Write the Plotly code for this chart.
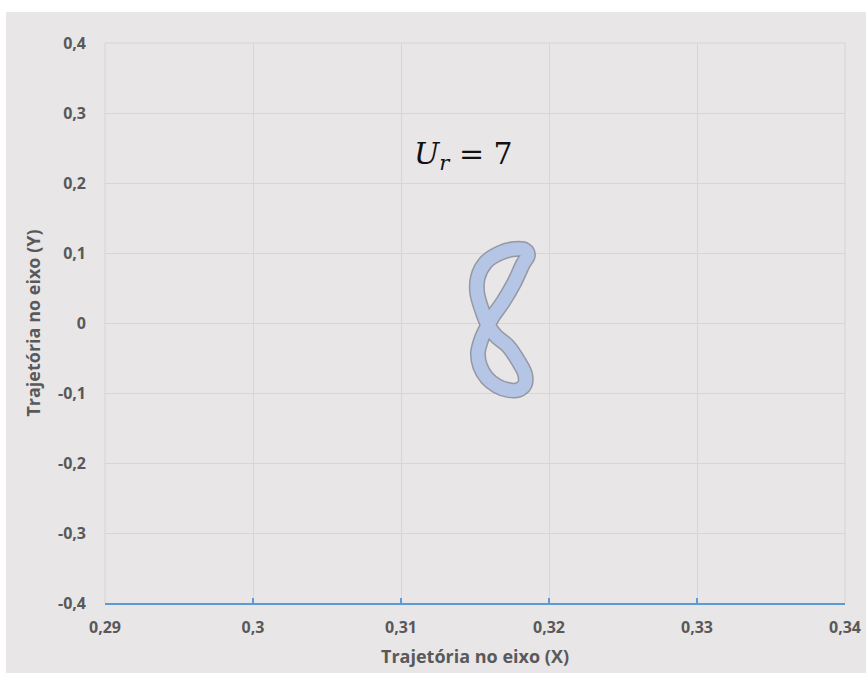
import plotly.graph_objects as go

# Trajectory (figure-eight)
traj_x = [0.31858, 0.31824, 0.31764, 0.31689, 0.31622, 0.31588, 0.31541, 0.31520,
          0.31534, 0.31581, 0.31649, 0.31723, 0.31791, 0.31838, 0.31838, 0.31797,
          0.31723, 0.31642, 0.31588, 0.31547, 0.31515, 0.31520, 0.31575, 0.31669,
          0.31770, 0.31838, 0.31858]
traj_y = [0.0971, 0.0843, 0.0571, 0.0300, 0.0100, -0.0029, -0.0243, -0.0429,
          -0.0614, -0.0786, -0.0900, -0.0957, -0.0957, -0.0871, -0.0729, -0.0557,
          -0.0329, -0.0186, -0.0029, 0.0186, 0.0429, 0.0657, 0.0871, 0.1000,
          0.1057, 0.1043, 0.0971]

x_tickvals = [0.29, 0.30, 0.31, 0.32, 0.33, 0.34]
x_ticktext = ["0,29", "0,3", "0,31", "0,32", "0,33", "0,34"]
y_tickvals = [0.4, 0.3, 0.2, 0.1, 0.0, -0.1, -0.2, -0.3, -0.4]
y_ticktext = ["0,4", "0,3", "0,2", "0,1", "0", "-0,1", "-0,2", "-0,3", "-0,4"]

x_title = "Trajetória no eixo (X)"
y_title = "Trajetória no eixo (Y)"
label_text = "<i>U</i><sub><i>r</i></sub> = 7"
label_x, label_y = 0.3142, 0.24

W, H = 866, 674
L, R, T, B = 105, 21, 43, 71
pw, ph = W - L - R, H - T - B
GRID = "#d6d6d6"
FONT = "Open Sans, sans-serif"
TXT = "#595959"

fig = go.Figure()
fig.add_trace(go.Scatter(x=traj_x, y=traj_y, mode="lines",
                         line=dict(color="rgba(80,88,105,0.55)", width=16, shape="spline"),
                         hoverinfo="skip", showlegend=False))
fig.add_trace(go.Scatter(x=traj_x, y=traj_y, mode="lines",
                         line=dict(color="#b4c5e6", width=13, shape="spline"),
                         showlegend=False))

fig.update_layout(
    width=W, height=H,
    margin=dict(l=L, r=R, t=T, b=B),
    paper_bgcolor="white",
    plot_bgcolor="rgba(0,0,0,0)",
    font=dict(family=FONT, size=16, color=TXT),
    showlegend=False,
    shapes=[
        dict(type="rect", xref="paper", yref="paper",
             x0=(6 - L) / pw, x1=(W - L) / pw,
             y0=(H - B - 673) / ph, y1=(H - B - 12) / ph,
             fillcolor="#e8e6e7", line=dict(width=0), layer="below"),
        dict(type="line", xref="paper", yref="paper", x0=0, x1=0, y0=0, y1=1,
             line=dict(color=GRID, width=1), layer="below"),
        dict(type="line", xref="paper", yref="paper", x0=1, x1=1, y0=0, y1=1,
             line=dict(color=GRID, width=1), layer="below"),
        dict(type="line", xref="paper", yref="paper", x0=0, x1=1, y0=1, y1=1,
             line=dict(color=GRID, width=1), layer="below"),
    ],
    annotations=[dict(x=label_x, y=label_y, xref="x", yref="y", text=label_text,
                      showarrow=False,
                      font=dict(family="DejaVu Serif, Liberation Serif, serif", size=30, color="#111111"))],
)

tick_font = dict(family=FONT, size=16, color=TXT, weight="bold")
title_font = dict(family=FONT, size=18, color=TXT, weight="bold")

fig.update_xaxes(
    range=[0.29, 0.34], tickvals=x_tickvals, ticktext=x_ticktext,
    showgrid=True, gridcolor=GRID, gridwidth=1, zeroline=False,
    showline=True, linecolor="#5b9bd5", linewidth=1.5,
    ticks="inside", ticklen=5, tickcolor="#5b9bd5", tickwidth=1.5,
    tickfont=tick_font, ticklabelstandoff=9, automargin=False,
    title=dict(text=x_title, standoff=13, font=title_font),
)
fig.update_yaxes(
    range=[-0.4, 0.4], tickvals=y_tickvals, ticktext=y_ticktext,
    showgrid=True, gridcolor=GRID, gridwidth=1, zeroline=False,
    showline=False, ticks="", automargin=False,
    tickfont=tick_font, ticklabelstandoff=18,
    title=dict(text=y_title, standoff=12, font=title_font),
)

fig.write_html("out.html")
